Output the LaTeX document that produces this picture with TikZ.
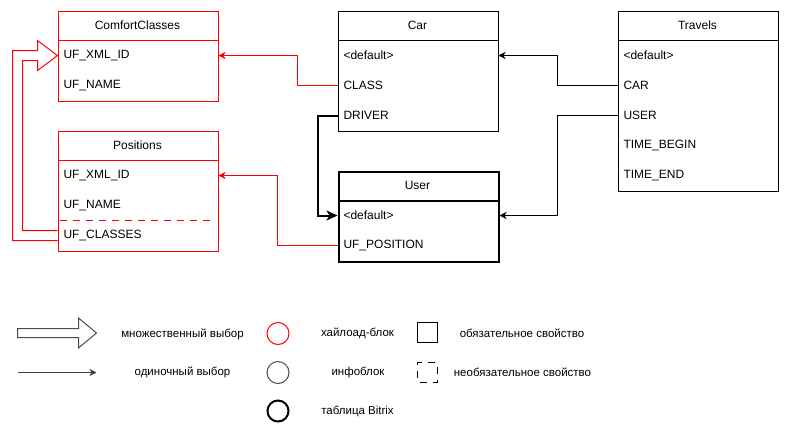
\documentclass[tikz,border=0pt]{standalone}
\usepackage{fontspec}
\setmainfont{Liberation Sans}
\usetikzlibrary{arrows.meta,calc,shapes.geometric}
\definecolor{hlred}{RGB}{255,0,0}
\begin{document}
\begin{tikzpicture}[x=1pt,y=-1pt,line width=1pt,
  every node/.style={font=\fontsize{12}{14}\selectfont},
  tbox/.style={draw,rectangle,minimum width=160pt,inner sep=0pt,anchor=north west},
  rtxt/.style={anchor=west,inner sep=0pt},
  htxt/.style={inner sep=0pt},
  sarr/.style={-{Stealth[length=7pt,width=7pt,inset=2pt]}},
  barr/.style={-{Stealth[length=11pt,width=10pt,inset=3pt]}},
  ltxt/.style={inner sep=0pt,font=\fontsize{11.5}{14}\selectfont}]
\useasboundingbox (0,0) rectangle (788,437);

% ComfortClasses
\node[tbox,draw=hlred,minimum height=90pt] (cc) at (57.5,10.5) {};
\node[htxt] (cc-h) at (137.5,25.5) {ComfortClasses};
\draw[hlred] ([yshift=-30pt]cc.north west) -- ([yshift=-30pt]cc.north east);
\node[rtxt] (cc-1) at (63,55.5) {UF\_XML\_ID};
\node[rtxt] (cc-2) at (63,85.5) {UF\_NAME};

% Positions
\node[tbox,draw=hlred,minimum height=120pt] (pos) at (57.5,130.5) {};
\node[htxt] (pos-h) at (137.5,145.5) {Positions};
\draw[hlred] ([yshift=-30pt]pos.north west) -- ([yshift=-30pt]pos.north east);
\node[rtxt] (pos-1) at (63,175.5) {UF\_XML\_ID};
\node[rtxt] (pos-2) at (63,205.5) {UF\_NAME};
\node[rtxt] (pos-3) at (63,235.5) {UF\_CLASSES};
\coordinate (dl-a) at (57.5,220.5);
\coordinate (dl-b) at (210,220.5);
\draw[hlred,dash pattern=on 7pt off 6pt,dash phase=-2pt] (dl-a) -- (dl-b);

% Car
\node[tbox,minimum height=120pt] (car) at (337.5,10.5) {};
\node[htxt] (car-h) at (417.5,25.5) {Car};
\draw ([yshift=-30pt]car.north west) -- ([yshift=-30pt]car.north east);
\node[rtxt] (car-1) at (343,55.5) {<default>};
\node[rtxt] (car-2) at (343,85.5) {CLASS};
\node[rtxt] (car-3) at (343,115.5) {DRIVER};

% User
\node[tbox,line width=2pt,minimum height=90pt] (usr) at (337.5,170.5) {};
\node[htxt] (usr-h) at (417.5,185.5) {User};
\draw[line width=2pt] ([yshift=-30pt]usr.north west) -- ([yshift=-30pt]usr.north east);
\node[rtxt] (usr-1) at (343,215.5) {<default>};
\node[rtxt] (usr-2) at (343,245.5) {UF\_POSITION};

% Travels
\node[tbox,minimum height=180pt] (tr) at (617.5,10.5) {};
\node[htxt] (tr-h) at (697.5,25.5) {Travels};
\draw ([yshift=-30pt]tr.north west) -- ([yshift=-30pt]tr.north east);
\node[rtxt] (tr-1) at (623,55.5) {<default>};
\node[rtxt] (tr-2) at (623,85.5) {CAR};
\node[rtxt] (tr-3) at (623,115.5) {USER};
\node[rtxt] (tr-4) at (623,145.5) {TIME\_BEGIN};
\node[rtxt] (tr-5) at (623,175.5) {TIME\_END};

% connectors
\draw[hlred,sarr] (car-2 -| car.west) -- ++(-40,0) |- (cc-1 -| cc.east);
\draw[hlred,sarr] (usr-2 -| usr.west) -- ++(-60,0) |- (pos-1 -| pos.east);
\draw[line width=2pt,barr] (car-3 -| car.west) -- ++(-20,0) |- (usr-1 -| usr.west);
\draw[sarr] (tr-2 -| tr.west) -- ++(-60,0) |- (car-1 -| car.east);
\draw[sarr] (tr-3 -| tr.west) -- ++(-60,0) |- (usr-1 -| usr.east);

% multiple-choice hollow arrow
\draw[hlred,fill=white,line join=miter]
  ([yshift=-5pt]pos-3 -| pos.west) -- ++(-45,0) |- ([yshift=5pt]cc-1 -| 37.5,0) -- ++(0,-10)
  -- (cc-1 -| cc.west) -- ([yshift=-15pt]cc-1 -| 37.5,0) -- ++(0,-10) -| ([yshift=5pt]pos-3 -| 22.5,0)
  -- ([yshift=5pt]pos-3 -| pos.west);

% legend
\draw[black!70,fill=white] (17.5,328.5) -- (78.5,328.5) -- (78.5,318) -- (96.5,333)
  -- (78.5,348) -- (78.5,337.5) -- (17.5,337.5) -- cycle;
\node[ltxt] (lg-m) at (182.5,334) {множественный выбор};
\coordinate (la) at (17.5,372.5);
\coordinate (lb) at (96.5,372.5);
\draw[black!75,-{Stealth[length=7pt,width=7pt,inset=2pt]}] (la) -- (lb);
\node[ltxt] (lg-s) at (182.5,372.5) {одиночный выбор};

\node[circle,draw=hlred,minimum size=22pt,inner sep=0pt] (c1) at (278,333.5) {};
\node[circle,draw=black!70,minimum size=22pt,inner sep=0pt] (c2) at (278,372.5) {};
\node[circle,draw,line width=2pt,minimum size=21pt,inner sep=0pt] (c3) at (278,411) {};
\node[ltxt] (lg-h) at (357.5,333.5) {хайлоад-блок};
\node[ltxt] (lg-i) at (358,372.5) {инфоблок};
\node[ltxt] (lg-t) at (357.5,411) {таблица Bitrix};

\node[draw,rectangle,minimum size=20pt,inner sep=0pt] (s1) at (427,332.5) {};
\node[draw,rectangle,minimum size=20pt,inner sep=0pt,dash pattern=on 7pt off 6pt,dash phase=-3pt] (s2) at (427,372.5) {};
\node[ltxt] (lg-o) at (522,333.5) {обязательное свойство};
\node[ltxt] (lg-n) at (522.5,372.5) {необязательное свойство};
\end{tikzpicture}
\end{document}
